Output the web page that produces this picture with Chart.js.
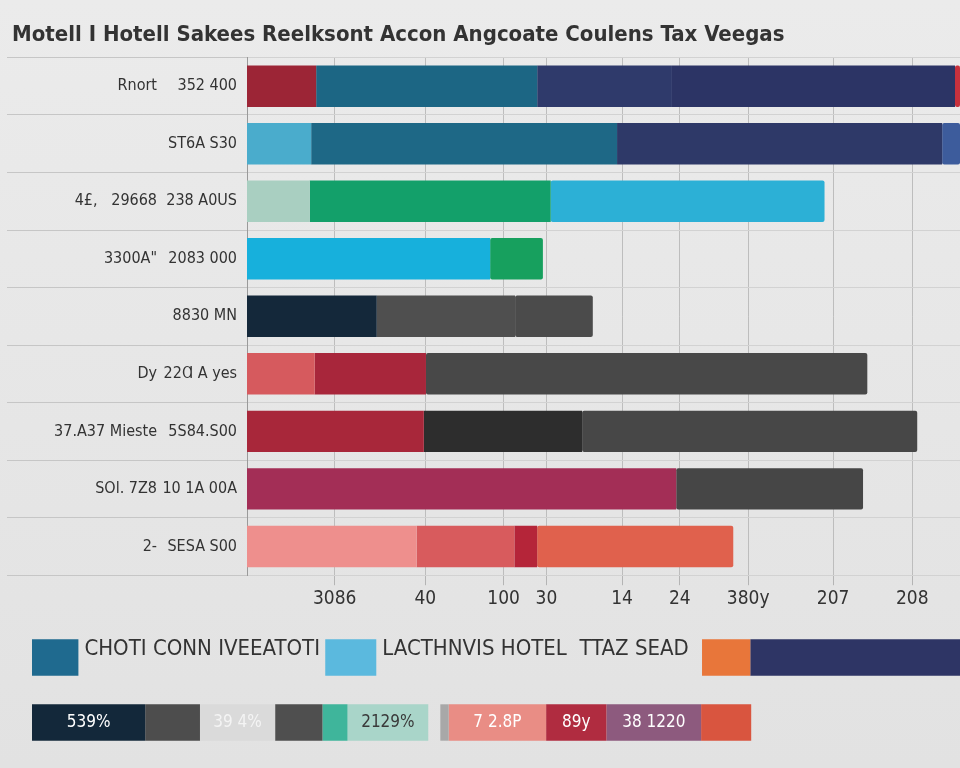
<!DOCTYPE html>
<html>
<head>
<meta charset="utf-8">
<script src="https://cdn.jsdelivr.net/npm/chart.js@4.4.1/dist/chart.umd.min.js"></script>
<style>
  body { margin: 0; background: #e5e5e5; }
  .wrap { position: relative; width: 960px; height: 768px; background: linear-gradient(#ebebeb, #e2e2e2); }
  #mainChart { position: absolute; left: 0; top: 0; }
  #bandChart { position: absolute; left: 0; top: 625px; }
</style>
</head>
<body>
<div class="wrap">
  <canvas id="mainChart" width="960" height="620"></canvas>
  <canvas id="bandChart" width="960" height="130"></canvas>
</div>
<script>
// DATA
const valueLabels = ['352 400', 'ST6A S30', '238 A0US', '2083 000', '8830 MN', '22Ɑ A yes', '5S84.S00', '10 1A 00A', 'SESA S00'];
const nameLabels = ['Rnort', '', '4£,   29668', '3300A"', '', 'Dy', '37.A37 Mieste', 'SOl. 7Z8', '2-'];
const xTickValues = [12.3, 25, 36, 42, 52.6, 60.7, 70.3, 82.2, 93.3];
const xTickLabels = ['3086', '40', '100', '30', '14', '24', '380y', '207', '208'];

const seg1 = [9.7, 9.0, 8.8, 34.1, 18.2, 9.5, 24.8, 60.2, 23.8];
const seg2 = [31.0, 42.9, 33.8, 7.4, 19.4, 15.6, 22.2, 26.2, 13.7];
const seg3 = [18.9, 45.6, 38.4, 0, 10.9, 61.9, 47.0, 0, 3.2];
const seg4 = [39.7, 2.5, 0, 0, 0, 0, 0, 0, 27.5];
const seg5 = [0.7, 0, 0, 0, 0, 0, 0, 0, 0];

const bandA = [5.0, 26.6, 5.5, 35.1, 5.2, 22.6];
const bandAText = ['', 'CHOTI CONN IVEEATOTI', '', 'LACTHNVIS HOTEL  TTAZ SEAD', '', ''];
const bandB = [12.2, 5.9, 8.1, 5.1, 2.7, 8.7, 1.3, 0.9, 10.5, 6.5, 10.2, 5.4];
const bandBText = ['539%', '', '39 4%', '', '', '2129%', '', '', '7 2.8P', '89y', '38 1220', ''];

// STYLES
const seg1Colors = ['#9c2536', '#4aaccc', '#a9cfc1', '#17b0dc', '#14283a', '#d65a5e', '#a8273a', '#a32e56', '#ee8f8d'];
const seg2Colors = ['#1c6684', '#1e6886', '#13a06a', '#17a05e', '#4f4f4f', '#a8263b', '#2d2d2d', '#464646', '#d85b5d'];
const seg3Colors = ['#2f3a6b', '#2e3968', '#2cb0d6', '#000', '#4b4b4b', '#484848', '#474747', '#000', '#b52539'];
const seg4Colors = ['#2c3465', '#3d5c9c', '#000', '#000', '#000', '#000', '#000', '#000', '#e0614d'];
const seg5Colors = ['#c8313d', '#000', '#000', '#000', '#000', '#000', '#000', '#000', '#000'];
const bandAColors = ['#1f6a8f', 'rgba(0,0,0,0)', '#5bb9de', 'rgba(0,0,0,0)', '#e8763a', '#2e3565'];
const bandBColors = ['#13283a', '#4d4d4d', '#dadada', '#4f4f4f', '#3fb59b', '#a9d5c9', 'rgba(0,0,0,0)', '#a8a8a8', '#e98d85', '#b02c40', '#8d5a7e', '#d9553f'];
const bandBTextColors = ['#fff', '#fff', '#f4f4f4', '#fff', '#fff', '#3a3a3a', '#fff', '#fff', '#fff', '#fff', '#fff', '#fff'];

const narrow = "'Liberation Sans Narrow', 'DejaVu Sans Condensed', sans-serif";
Chart.defaults.font.family = narrow;
Chart.defaults.color = '#333';

const segDataset = (data, colors) => ({
  data: data,
  backgroundColor: colors,
  borderWidth: 0,
  borderRadius: 2,
  borderSkipped: false,
  barPercentage: 0.72,
  categoryPercentage: 1
});

const mainChart = new Chart(document.getElementById('mainChart'), {
  type: 'bar',
  data: {
    labels: valueLabels,
    datasets: [
      segDataset(seg1, seg1Colors),
      segDataset(seg2, seg2Colors),
      segDataset(seg3, seg3Colors),
      segDataset(seg4, seg4Colors),
      segDataset(seg5, seg5Colors)
    ]
  },
  options: {
    indexAxis: 'y',
    responsive: false,
    animation: false,
    layout: { padding: { left: 12, right: 0, bottom: 8 } },
    plugins: {
      legend: { display: false },
      tooltip: { enabled: false },
      title: {
        display: true,
        text: 'Motell I Hotell Sakees Reelksont Accon Angcoate Coulens Tax Veegas',
        align: 'start',
        color: '#333',
        font: { size: 22, weight: 'bold', family: narrow },
        padding: { top: 22, bottom: 9 }
      }
    },
    scales: {
      x: {
        stacked: true,
        min: 0,
        max: 100,
        afterBuildTicks: (scale) => { scale.ticks = xTickValues.map(v => ({ value: v })); },
        ticks: {
          autoSkip: false,
          maxRotation: 0,
          color: '#333',
          font: { size: 19 },
          padding: 2,
          callback: (v, i) => xTickLabels[i]
        },
        grid: { color: '#bdbdbd', tickColor: '#b4b4b4', tickLength: 10 },
        border: { display: false }
      },
      y: {
        stacked: true,
        position: 'left',
        afterFit: (scale) => { scale.width = 90; },
        ticks: { padding: -230, color: '#333', font: { size: 16 } },
        grid: { offset: true, color: '#d2d2d2', tickColor: '#c6c6c6', tickLength: 240 },
        border: { display: true, color: '#9a9a9a' }
      },
      yNames: {
        type: 'category',
        labels: nameLabels,
        position: 'left',
        offset: true,
        afterFit: (scale) => { scale.width = 145; },
        ticks: { padding: -8, color: '#333', font: { size: 16 } },
        grid: { display: false },
        border: { display: false }
      }
    }
  }
});

// text drawn inside the bottom band segments
const bandTextPlugin = {
  id: 'bandText',
  afterDatasetsDraw(chart) {
    const ctx = chart.ctx;
    chart.data.datasets.forEach((ds, di) => {
      const meta = chart.getDatasetMeta(di);
      meta.data.forEach((el, row) => {
        if (row === 0 && bandAText[di]) {
          ctx.save();
          ctx.font = '22px ' + narrow;
          ctx.fillStyle = '#333';
          ctx.textAlign = 'left';
          ctx.textBaseline = 'middle';
          ctx.fillText(bandAText[di], el.base + 6, el.y - 8);
          ctx.restore();
        }
        if (row === 1 && bandBText[di]) {
          ctx.save();
          ctx.font = '17px ' + narrow;
          ctx.fillStyle = bandBTextColors[di];
          ctx.textAlign = 'center';
          ctx.textBaseline = 'middle';
          ctx.fillText(bandBText[di], (el.base + el.x) / 2, el.y);
          ctx.restore();
        }
      });
    });
  }
};

const bandCount = Math.max(bandA.length, bandB.length);
const bandDatasets = [];
for (let i = 0; i < bandCount; i++) {
  bandDatasets.push({
    data: [i < bandA.length ? bandA[i] : 0, i < bandB.length ? bandB[i] : 0],
    backgroundColor: [bandAColors[i] || '#000', bandBColors[i] || '#000'],
    borderWidth: 0,
    barPercentage: 0.56,
    categoryPercentage: 1
  });
}

const bandChart = new Chart(document.getElementById('bandChart'), {
  type: 'bar',
  data: { labels: ['a', 'b'], datasets: bandDatasets },
  options: {
    indexAxis: 'y',
    responsive: false,
    animation: false,
    layout: { padding: { left: 32, right: 0, top: 0, bottom: 0 } },
    plugins: { legend: { display: false }, tooltip: { enabled: false } },
    scales: {
      x: { stacked: true, min: 0, max: 100, display: false },
      y: { stacked: true, display: false }
    }
  },
  plugins: [bandTextPlugin]
});
</script>
</body>
</html>
